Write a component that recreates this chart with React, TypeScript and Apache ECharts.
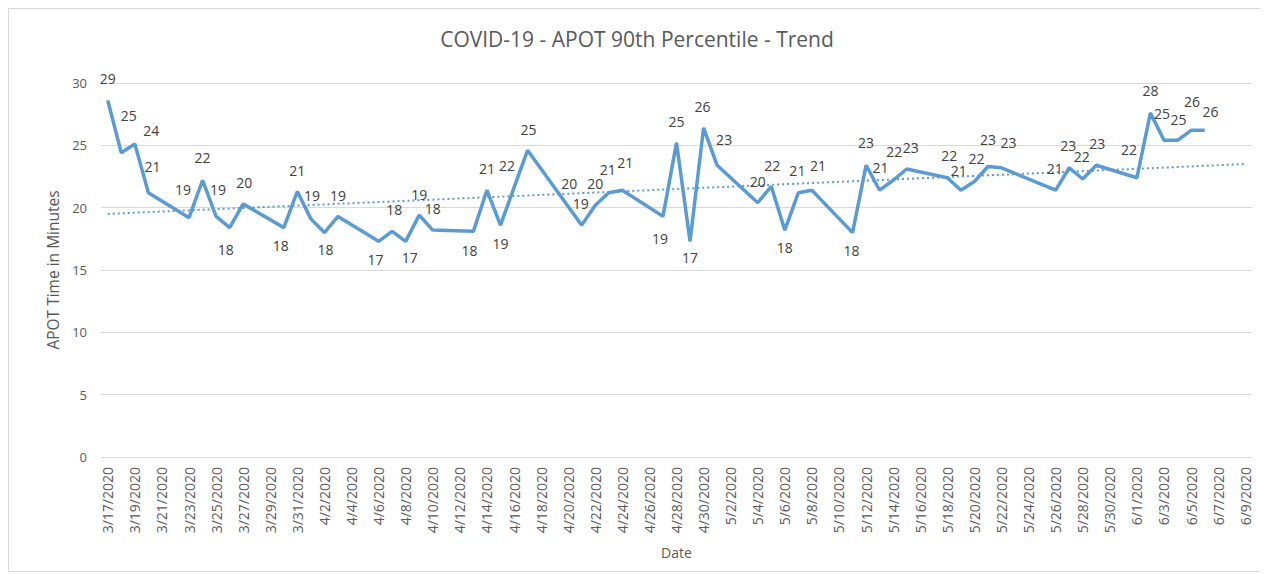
import React, { useEffect, useRef } from "react";
import * as echarts from "echarts";

const FONT = "'Open Sans', sans-serif";
const TEXT = "#595959";
const GRID = "#d9d9d9";
const BLUE = "#5b9bd5";

// axis categories: every day from 3/17/2020 to 6/9/2020
const categories: string[] = (() => {
  const out: string[] = [];
  const d = new Date(2020, 2, 17);
  const end = new Date(2020, 5, 9);
  while (d <= end) {
    out.push(`${d.getMonth() + 1}/${d.getDate()}/${d.getFullYear()}`);
    d.setDate(d.getDate() + 1);
  }
  return out;
})();

const pointDates = [
  "3/17/2020", "3/18/2020", "3/19/2020", "3/20/2020", "3/23/2020", "3/24/2020", "3/25/2020",
  "3/26/2020", "3/27/2020", "3/30/2020", "3/31/2020", "4/1/2020", "4/2/2020", "4/3/2020",
  "4/6/2020", "4/7/2020", "4/8/2020", "4/9/2020", "4/10/2020", "4/13/2020", "4/14/2020",
  "4/15/2020", "4/16/2020", "4/17/2020", "4/20/2020", "4/21/2020", "4/22/2020", "4/23/2020",
  "4/24/2020", "4/27/2020", "4/28/2020", "4/29/2020", "4/30/2020", "5/1/2020", "5/4/2020",
  "5/5/2020", "5/6/2020", "5/7/2020", "5/8/2020", "5/11/2020", "5/12/2020", "5/13/2020",
  "5/14/2020", "5/15/2020", "5/18/2020", "5/19/2020", "5/20/2020", "5/21/2020", "5/22/2020",
  "5/26/2020", "5/27/2020", "5/28/2020", "5/29/2020", "6/1/2020", "6/2/2020", "6/3/2020",
  "6/4/2020", "6/5/2020", "6/6/2020",
];

const apotMinutes = [
  28.6, 24.4, 25.1, 21.2, 19.2, 22.2, 19.3,
  18.4, 20.3, 18.4, 21.3, 19.1, 18.0, 19.3,
  17.3, 18.1, 17.3, 19.4, 18.2, 18.1, 21.4,
  18.6, 21.6, 24.6, 20.1, 18.6, 20.2, 21.2,
  21.4, 19.3, 25.2, 17.3, 26.4, 23.4, 20.4,
  21.7, 18.2, 21.2, 21.4, 18.0, 23.4, 21.4,
  22.2, 23.1, 22.4, 21.4, 22.1, 23.3, 23.2,
  21.4, 23.2, 22.3, 23.4, 22.4, 27.6, 25.4,
  25.4, 26.2, 26.2,
];

// linear trend line end points
const trendDates = ["3/17/2020", "6/9/2020"];
const trendValues = [19.5, 23.5];

// label placement (pixel offsets from each point), styling only
const labelOffsets: [number, number][] = [
  [0, -22], [30, -22], [-6, -29], [4, -26], [-6, -28], [0, -23], [2, -27],
  [-4, 22], [1, -21], [-3, 18], [0, -21], [1, -23], [1, 17], [0, -21],
  [-3, 18], [2, -22], [4, 16], [0, -21], [0, -22], [-4, 19], [0, -22],
  [0, 18], [-7, -22], [1, -21], [1, -23], [-1, -22], [0, -22], [-1, -23],
  [3, -28], [-3, 22], [0, -21], [0, 16], [-1, -21], [7, -26], [0, -21],
  [1, -21], [0, 17], [-1, -22], [6, -25], [-1, 18], [0, -23], [1, -23],
  [1, -29], [4, -22], [2, -22], [-2, -20], [2, -23], [0, -27], [7, -25],
  [-1, -22], [-1, -22], [-1, -22], [1, -22], [-8, -28], [0, -22], [-2, -27],
  [1, -21], [1, -29], [6, -19],
];

export default function App() {
  const ref = useRef<HTMLDivElement>(null);
  useEffect(() => {
    if (!ref.current) return;
    const chart = echarts.init(ref.current, null, { renderer: "svg" });
    const lineData = pointDates.map((d, i) => ({
      value: [categories.indexOf(d), apotMinutes[i]],
      label: { offset: labelOffsets[i] },
    }));
    const trendData = trendDates.map((d, i) => [categories.indexOf(d), trendValues[i]]);
    chart.setOption({
      animation: false,
      backgroundColor: "#ffffff",
      title: {
        text: "COVID-19 - APOT 90th Percentile - Trend",
        left: "center",
        top: 15,
        textStyle: { fontFamily: FONT, fontSize: 21, fontWeight: "normal", color: TEXT },
      },
      graphic: [
        {
          type: "rect",
          shape: { x: 0.5, y: 0.5, width: 1257, height: 563 },
          style: { fill: "none", stroke: GRID, lineWidth: 1 },
          silent: true,
        },
      ],
      grid: { left: 93, right: 14, top: 75, bottom: 115, containLabel: false },
      xAxis: {
        type: "category",
        data: categories,
        boundaryGap: true,
        name: "Date",
        nameLocation: "middle",
        nameGap: 88,
        nameTextStyle: { fontFamily: FONT, fontSize: 14, color: TEXT },
        axisLine: { show: true, lineStyle: { color: GRID, width: 1 } },
        axisTick: { show: false },
        axisLabel: {
          interval: 1,
          rotate: 90,
          margin: 10,
          fontFamily: FONT,
          fontSize: 14,
          color: TEXT,
        },
        splitLine: { show: false },
      },
      yAxis: {
        type: "value",
        min: 0,
        max: 30,
        interval: 5,
        name: "APOT Time in Minutes",
        nameLocation: "middle",
        nameGap: 40,
        nameTextStyle: { fontFamily: FONT, fontSize: 15.5, color: TEXT },
        axisLine: { show: false },
        axisTick: { show: false },
        axisLabel: { fontFamily: FONT, fontSize: 13, color: TEXT, margin: 14 },
        splitLine: { lineStyle: { color: GRID, width: 1 } },
      },
      series: [
        {
          type: "line",
          name: "Trend",
          data: trendData,
          symbol: "none",
          z: 1,
          lineStyle: { color: BLUE, width: 2, type: [2, 3] },
          silent: true,
        },
        {
          type: "line",
          name: "APOT 90th Percentile",
          data: lineData,
          symbol: "circle",
          symbolSize: 1,
          showSymbol: true,
          z: 3,
          itemStyle: { color: BLUE },
          lineStyle: { color: BLUE, width: 3.5 },
          label: {
            show: true,
            position: "inside",
            formatter: (p: any) => String(Math.round(p.value[1])),
            color: "#404040",
            fontFamily: FONT,
            fontSize: 14,
            textBorderWidth: 0,
          },
        },
      ],
    });
    return () => chart.dispose();
  }, []);
  return <div ref={ref} style={{ width: 1258, height: 564 }} />;
}
